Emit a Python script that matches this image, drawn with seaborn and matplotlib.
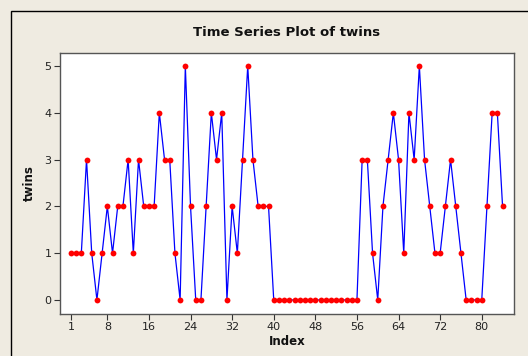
import matplotlib
matplotlib.use("Agg")
import matplotlib.pyplot as plt
import seaborn as sns
import pandas as pd
from matplotlib.patches import Rectangle

index = list(range(1, 85))
twins = [1, 1, 1, 3, 1, 0, 1, 2, 1, 2,
         2, 3, 1, 3, 2, 2, 2, 4, 3, 3,
         1, 0, 5, 2, 0, 0, 2, 4, 3, 4,
         0, 2, 1, 3, 5, 3, 2, 2, 2, 0,
         0, 0, 0, 0, 0, 0, 0, 0, 0, 0,
         0, 0, 0, 0, 0, 0, 3, 3, 1, 0,
         2, 3, 4, 3, 1, 4, 3, 5, 3, 2,
         1, 1, 2, 3, 2, 1, 0, 0, 0, 0,
         2, 4, 4, 2]
x_ticks = [1, 8, 16, 24, 32, 40, 48, 56, 64, 72, 80]
y_ticks = [0, 1, 2, 3, 4, 5]

df = pd.DataFrame({"Index": index, "twins": twins})

sns.set_style("white")
plt.rcParams['font.family'] = ['DejaVu Sans']

bg = "#EFEBE1"
fig = plt.figure(figsize=(5.28, 3.56), dpi=100, facecolor=bg)
W, H = 528, 356
ax = fig.add_axes([60 / W, 1 - 314 / H, (514 - 60) / W, (314 - 52.7) / H])
ax.set_facecolor("white")

sns.lineplot(data=df, x="Index", y="twins", ax=ax, color="#0000FF", lw=0.9,
             marker="o", markersize=4.2, markerfacecolor="#FF0000",
             markeredgecolor="#FF0000", markeredgewidth=0)

ax.set_xlim(-1.1, 86.2)
ax.set_ylim(-0.3, 5.285)
ax.set_xticks(x_ticks)
ax.set_yticks(y_ticks)
ax.tick_params(axis="both", length=4, width=0.8, color="#333333",
               labelsize=8, labelcolor="#222222", pad=2, direction="out")
ax.tick_params(axis="x", bottom=True)
ax.tick_params(axis="y", left=True)
for s in ax.spines.values():
    s.set_color("#555555")
    s.set_linewidth(1.0)

ax.set_xlabel("Index", fontsize=8.5, fontweight="bold", color="#111111", labelpad=2)
ax.set_ylabel("twins", fontsize=8.5, fontweight="bold", color="#111111", labelpad=6)
fig.text(0.5 * (60 + 514) / W, 1 - 33 / H, "Time Series Plot of twins",
         ha="center", va="center", fontsize=9.5, fontweight="bold", color="#111111")

fig.patches.append(Rectangle((10.5 / W, -0.1), 1.2, 1 - 10.5 / H + 0.1,
                             transform=fig.transFigure, fill=False,
                             edgecolor="black", linewidth=1.0))

fig.savefig("out.png", dpi=100, facecolor=bg)
